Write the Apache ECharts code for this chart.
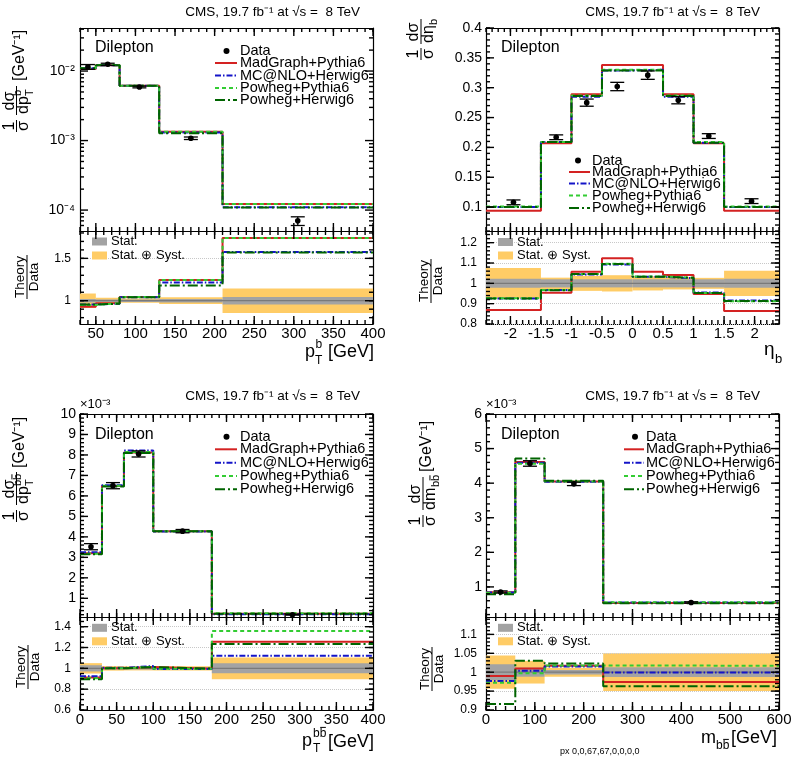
<!DOCTYPE html>
<html><head><meta charset="utf-8">
<script src="https://cdn.jsdelivr.net/npm/echarts@6.0.0/dist/echarts.min.js"></script>
<style>html,body{margin:0;padding:0;background:#fff}#c{width:793px;height:757px}</style>
</head><body><div id="c"></div>
<script>
// ================= DATA =================
const modelNames = ['MadGraph+Pythia6', 'MC@NLO+Herwig6', 'Powheg+Pythia6', 'Powheg+Herwig6'];

const ptbBins = [30, 50, 80, 130, 210, 400];
const ptbData = [1.15e-2, 1.25e-2, 5.9e-3, 1.08e-3, 7.0e-5];
const ptbErr = [0.9e-3, 0.45e-3, 0.17e-3, 0.045e-3, 1.0e-5];
const ptbMadGraph = [1.07e-2, 1.21e-2, 6.15e-3, 1.34e-3, 1.22e-4];
const ptbMcatnlo = [1.10e-2, 1.21e-2, 6.15e-3, 1.31e-3, 1.10e-4];
const ptbPowhegPythia = [1.10e-2, 1.22e-2, 6.15e-3, 1.34e-3, 1.22e-4];
const ptbPowhegHerwig = [1.10e-2, 1.21e-2, 6.15e-3, 1.27e-3, 1.09e-4];
const ptbRatioMadGraph = [0.93, 0.97, 1.045, 1.245, 1.74];
const ptbRatioMcatnlo = [0.955, 0.965, 1.04, 1.215, 1.575];
const ptbRatioPowhegPythia = [0.95, 0.97, 1.045, 1.245, 1.74];
const ptbRatioPowhegHerwig = [0.955, 0.965, 1.04, 1.18, 1.57];
const ptbStat = [0.02, 0.015, 0.015, 0.02, 0.045];
const ptbSyst = [0.085, 0.035, 0.025, 0.04, 0.145];
const ptbXTicks = [50, 100, 150, 200, 250, 300, 350, 400];
const ptbYTicks = [1e-4, 1e-3, 1e-2];
const ptbRatioYTicks = [1, 1.5];

const etaBins = [-2.4, -1.5, -1, -0.5, 0, 0.5, 1, 1.5, 2.4];
const etaData = [0.108, 0.217, 0.275, 0.302, 0.321, 0.279, 0.219, 0.110];
const etaErr = [0.004, 0.004, 0.006, 0.007, 0.007, 0.006, 0.004, 0.004];
const etaMadGraph = [0.094, 0.207, 0.289, 0.338, 0.338, 0.289, 0.207, 0.094];
const etaMcatnlo = [0.100, 0.209, 0.285, 0.329, 0.330, 0.285, 0.208, 0.100];
const etaPowhegPythia = [0.101, 0.209, 0.287, 0.330, 0.330, 0.287, 0.209, 0.101];
const etaPowhegHerwig = [0.100, 0.209, 0.286, 0.329, 0.329, 0.286, 0.208, 0.100];
const etaRatioMadGraph = [0.869, 0.954, 1.057, 1.123, 1.057, 1.041, 0.948, 0.864];
const etaRatioMcatnlo = [0.925, 0.967, 1.043, 1.093, 1.032, 1.025, 0.955, 0.915];
const etaRatioPowhegPythia = [0.927, 0.967, 1.046, 1.097, 1.034, 1.028, 0.953, 0.912];
const etaRatioPowhegHerwig = [0.926, 0.966, 1.046, 1.095, 1.033, 1.027, 0.952, 0.913];
const etaStat = [0.022, 0.02, 0.02, 0.02, 0.02, 0.02, 0.02, 0.022];
const etaSyst = [0.075, 0.028, 0.037, 0.04, 0.035, 0.03, 0.027, 0.062];
const etaXTicks = [-2, -1.5, -1, -0.5, 0, 0.5, 1, 1.5, 2];
const etaYTicks = [0.1, 0.15, 0.2, 0.25, 0.3, 0.35, 0.4];
const etaRatioYTicks = [0.8, 0.9, 1, 1.1, 1.2];

const ptbbBins = [0, 30, 60, 100, 180, 400];
const ptbbData = [3.52, 6.50, 8.05, 4.28, 0.20];
const ptbbErr = [0.15, 0.15, 0.15, 0.08, 0.02];
const ptbbMadGraph = [3.20, 6.48, 8.12, 4.28, 0.251];
const ptbbMcatnlo = [3.25, 6.52, 8.22, 4.26, 0.224];
const ptbbPowhegPythia = [3.17, 6.50, 8.15, 4.27, 0.272];
const ptbbPowhegHerwig = [3.15, 6.46, 8.10, 4.28, 0.247];
const ptbbRatioMadGraph = [0.912, 1.0, 1.012, 0.995, 1.255];
const ptbbRatioMcatnlo = [0.925, 1.005, 1.022, 0.993, 1.12];
const ptbbRatioPowhegPythia = [0.905, 1.0, 1.015, 0.995, 1.358];
const ptbbRatioPowhegHerwig = [0.895, 1.0, 1.012, 0.998, 1.233];
const ptbbStat = [0.03, 0.012, 0.012, 0.01, 0.048];
const ptbbSyst = [0.05, 0.022, 0.02, 0.02, 0.105];
const ptbbXTicks = [0, 50, 100, 150, 200, 250, 300, 350, 400];
const ptbbYTicks = [1, 2, 3, 4, 5, 6, 7, 8, 9, 10];
const ptbbRatioYTicks = [0.6, 0.8, 1, 1.2, 1.4];

const mbbBins = [0, 60, 120, 240, 600];
const mbbData = [0.855, 4.57, 3.98, 0.55];
const mbbErr = [0.03, 0.08, 0.05, 0.02];
const mbbMadGraph = [0.845, 4.61, 4.05, 0.536];
const mbbMcatnlo = [0.835, 4.59, 4.04, 0.55];
const mbbPowhegPythia = [0.83, 4.56, 4.05, 0.56];
const mbbPowhegHerwig = [0.785, 4.71, 4.07, 0.53];
const mbbRatioMadGraph = [0.99, 1.01, 1.017, 0.974];
const mbbRatioMcatnlo = [0.977, 1.004, 1.015, 0.999];
const mbbRatioPowhegPythia = [0.972, 0.997, 1.018, 1.017];
const mbbRatioPowhegHerwig = [0.916, 1.03, 1.023, 0.963];
const mbbStat = [0.021, 0.012, 0.006, 0.013];
const mbbSyst = [0.044, 0.03, 0.012, 0.05];
const mbbXTicks = [0, 100, 200, 300, 400, 500, 600];
const mbbYTicks = [1, 2, 3, 4, 5, 6];
const mbbRatioYTicks = [0.9, 0.95, 1, 1.05, 1.1];

const logYTicksMinor = [6e-5, 7e-5, 8e-5, 9e-5, 2e-4, 3e-4, 4e-4, 5e-4, 6e-4, 7e-4, 8e-4, 9e-4,
  2e-3, 3e-3, 4e-3, 5e-3, 6e-3, 7e-3, 8e-3, 9e-3, 2e-2, 3e-2, 4e-2];

// ================= BUILD =================
const FONT = '"Liberation Sans", Arial, Helvetica, sans-serif';
function range(a, b, s) { const r = []; for (let v = a; v <= b + 1e-9; v += s) r.push(Math.round(v * 1e6) / 1e6); return r; }
const SUP = {'-': '\u207B', '0': '\u2070', '1': '\u00B9', '2': '\u00B2', '3': '\u00B3', '4': '\u2074', '5': '\u2075'};
function sup(n) { return String(n).split('').map(c => SUP[c] || c).join(''); }

const grids = [
  {left: 80, top: 28, width: 293, height: 203},
  {left: 80, top: 231, width: 293, height: 93},
  {left: 486, top: 28, width: 293, height: 203},
  {left: 486, top: 231, width: 293, height: 93},
  {left: 80, top: 414, width: 293, height: 203},
  {left: 80, top: 617, width: 293, height: 93},
  {left: 486, top: 414, width: 293, height: 203},
  {left: 486, top: 617, width: 293, height: 93}
].map(g => Object.assign({outerBoundsMode: 'none', containLabel: false}, g));

const xAxes = [], yAxes = [], series = [], G = [], frames = [];
const frameLine = {show: true, onZero: false, lineStyle: {color: '#000', width: 1.2}};

function frame(gi, xr, xMaj, xMin, yr, yMaj, yMin, o) {
  const xi = xAxes.length;
  ['bottom', 'top'].forEach((pos, k) => {
    xAxes.push({gridIndex: gi, type: 'value', position: pos, min: xr[0], max: xr[1],
      axisLine: frameLine, axisTick: {show: false},
      axisLabel: {show: k === 0 && !!o.xLabels, customValues: xMaj, color: '#000', fontSize: 15, margin: 2, fontFamily: FONT},
      splitLine: {show: false}});
  });
  const yi = yAxes.length;
  ['left', 'right'].forEach((pos, k) => {
    if (o.log) {
      yAxes.push({gridIndex: gi, type: 'log', logBase: 10, position: pos, min: yr[0], max: yr[1],
        axisLine: frameLine, axisTick: {show: false},
        axisLabel: {show: k === 0, showMinLabel: false, showMaxLabel: false,
          formatter: v => '10' + sup(Math.round(Math.log10(v))), color: '#000', fontSize: 14, margin: 5, fontFamily: FONT},
        splitLine: {show: false}, minorTick: {show: false}});
    } else {
      yAxes.push({gridIndex: gi, type: 'value', position: pos, min: yr[0], max: yr[1],
        axisLine: frameLine, axisTick: {show: false},
        axisLabel: {show: k === 0, customValues: yMaj, color: '#000', fontSize: o.yFont || 14, margin: o.yMargin || 4, fontFamily: FONT},
        splitLine: {show: false}});
    }
  });
  const ax = {gi, xi, yi, xr, yr, log: !!o.log, xMaj, xMin, yMaj, yMin};
  frames.push(ax);
  return ax;
}

const modelStyles = [
  {color: '#d42222', type: 'solid'},
  {color: '#1414c8', type: [6, 2, 1.5, 2]},
  {color: '#33cc33', type: [4, 3]},
  {color: '#006400', type: [10, 3, 2, 3]}
];

function histPoints(bins, vals) {
  const pts = [];
  vals.forEach((v, i) => { pts.push([bins[i], v]); pts.push([bins[i + 1], v]); });
  return pts;
}
function histSeries(ax, bins, vals, m) {
  return {type: 'line', xAxisIndex: ax.xi, yAxisIndex: ax.yi, data: histPoints(bins, vals), symbol: 'none',
    lineStyle: {color: modelStyles[m].color, width: 2, type: modelStyles[m].type}, z: 4 + m, silent: true, animation: false};
}
function dataSeries(ax, bins, vals, err) {
  return {type: 'custom', xAxisIndex: ax.xi, yAxisIndex: ax.yi, z: 12, silent: true, animation: false,
    data: vals.map((v, i) => [(bins[i] + bins[i + 1]) / 2, v, err[i]]),
    encode: {x: 0, y: 1},
    renderItem: (params, api) => {
      const x = api.value(0), y = api.value(1), e = api.value(2);
      const c = api.coord([x, y]), t = api.coord([x, y + e]), b = api.coord([x, y - e]);
      const st = {stroke: '#000', lineWidth: 1.3};
      return {type: 'group', children: [
        {type: 'line', shape: {x1: c[0], y1: t[1], x2: c[0], y2: b[1]}, style: st},
        {type: 'line', shape: {x1: c[0] - 7, y1: t[1], x2: c[0] + 7, y2: t[1]}, style: st},
        {type: 'line', shape: {x1: c[0] - 7, y1: b[1], x2: c[0] + 7, y2: b[1]}, style: st},
        {type: 'circle', shape: {cx: c[0], cy: c[1], r: 2.8}, style: {fill: '#000'}}
      ]};
    }};
}
function bandSeries(ax, bins, half, color, z) {
  return {type: 'custom', xAxisIndex: ax.xi, yAxisIndex: ax.yi, z, silent: true, animation: false, clip: true,
    data: half.map((h, i) => [bins[i], bins[i + 1], 1 - h, 1 + h]),
    encode: {x: [0, 1], y: [2, 3]},
    renderItem: (params, api) => {
      const p0 = api.coord([api.value(0), api.value(3)]);
      const p1 = api.coord([api.value(1), api.value(2)]);
      return {type: 'rect', shape: {x: p0[0], y: p0[1], width: p1[0] - p0[0], height: p1[1] - p0[1]}, style: {fill: color}};
    }};
}
function unitySeries(ax, gridVals) {
  return {type: 'line', xAxisIndex: ax.xi, yAxisIndex: ax.yi, data: [[ax.xr[0], 1], [ax.xr[1], 1]], symbol: 'none',
    lineStyle: {color: '#7a7a7a', width: 1.2}, z: 3, silent: true, animation: false,
    markLine: {silent: true, symbol: ['none', 'none'], label: {show: false}, animation: false,
      lineStyle: {type: 'dotted', color: '#c8c8c8', width: 1}, data: gridVals.map(v => ({yAxis: v}))}};
}
function addPanel(mainAx, ratioAx, bins, data, err, models, ratios, stat, syst, gridVals) {
  series.push(bandSeries(ratioAx, bins, syst, '#ffcc66', 1));
  series.push(bandSeries(ratioAx, bins, stat, '#a3a3a3', 2));
  series.push(unitySeries(ratioAx, gridVals));
  models.forEach((v, m) => series.push(histSeries(mainAx, bins, v, m)));
  ratios.forEach((v, m) => series.push(histSeries(ratioAx, bins, v, m)));
  series.push(dataSeries(mainAx, bins, data, err));
}

const aMain = frame(0, [30, 400], ptbXTicks, range(30, 400, 10), [5e-5, 0.0416], ptbYTicks, logYTicksMinor, {log: true});
const aRatio = frame(1, [30, 400], ptbXTicks, range(30, 400, 10), [0.725, 1.823], ptbRatioYTicks, range(0.8, 1.8, 0.1), {xLabels: true, yFont: 12, yMargin: 9});
addPanel(aMain, aRatio, ptbBins, ptbData, ptbErr,
  [ptbMadGraph, ptbMcatnlo, ptbPowhegPythia, ptbPowhegHerwig],
  [ptbRatioMadGraph, ptbRatioMcatnlo, ptbRatioPowhegPythia, ptbRatioPowhegHerwig], ptbStat, ptbSyst, [1.5]);

const bMain = frame(2, [-2.4, 2.4], etaXTicks, range(-2.4, 2.4, 0.1), [0.06, 0.4], etaYTicks, range(0.06, 0.4, 0.01), {});
const bRatio = frame(3, [-2.4, 2.4], etaXTicks, range(-2.4, 2.4, 0.1), [0.8, 1.2575], etaRatioYTicks, range(0.8, 1.24, 0.02), {xLabels: true, yFont: 12, yMargin: 9});
addPanel(bMain, bRatio, etaBins, etaData, etaErr,
  [etaMadGraph, etaMcatnlo, etaPowhegPythia, etaPowhegHerwig],
  [etaRatioMadGraph, etaRatioMcatnlo, etaRatioPowhegPythia, etaRatioPowhegHerwig], etaStat, etaSyst, [0.8, 0.9, 1.1, 1.2]);

const cMain = frame(4, [0, 400], ptbbXTicks, range(0, 400, 10), [0.087, 10], ptbbYTicks, range(0.2, 10, 0.2), {});
const cRatio = frame(5, [0, 400], ptbbXTicks, range(0, 400, 10), [0.6, 1.493], ptbbRatioYTicks, range(0.6, 1.45, 0.05), {xLabels: true, yFont: 12, yMargin: 9});
addPanel(cMain, cRatio, ptbbBins, ptbbData, ptbbErr,
  [ptbbMadGraph, ptbbMcatnlo, ptbbPowhegPythia, ptbbPowhegHerwig],
  [ptbbRatioMadGraph, ptbbRatioMcatnlo, ptbbRatioPowhegPythia, ptbbRatioPowhegHerwig], ptbbStat, ptbbSyst, [0.8, 1.2, 1.4]);

const dMain = frame(6, [0, 600], mbbXTicks, range(0, 600, 20), [0.13, 6], mbbYTicks, range(0.2, 6, 0.2), {});
const dRatio = frame(7, [0, 600], mbbXTicks, range(0, 600, 20), [0.9, 1.146], mbbRatioYTicks, range(0.9, 1.14, 0.01), {xLabels: true, yFont: 12, yMargin: 9});
addPanel(dMain, dRatio, mbbBins, mbbData, mbbErr,
  [mbbMadGraph, mbbMcatnlo, mbbPowhegPythia, mbbPowhegHerwig],
  [mbbRatioMadGraph, mbbRatioMcatnlo, mbbRatioPowhegPythia, mbbRatioPowhegHerwig], mbbStat, mbbSyst, [0.95, 1.05, 1.1]);

// ================= TEXT / DECORATION =================
function T(x, y, s, size, align) {
  return {type: 'text', x, y, silent: true, z: 50,
    style: {text: s, font: size + 'px ' + FONT, fontSize: size, fontFamily: FONT, fill: '#000',
      textAlign: align || 'left', align: align || 'left', textVerticalAlign: 'middle', verticalAlign: 'middle'}};
}
function L(x1, y1, x2, y2, stroke, w, dash) {
  return {type: 'line', silent: true, z: 50, shape: {x1, y1, x2, y2}, style: {stroke: stroke || '#000', lineWidth: w || 1, lineDash: dash || null}};
}
function R(x, y, w, h, fill) { return {type: 'rect', silent: true, z: 50, shape: {x, y, width: w, height: h}, style: {fill}}; }
function rot(ox, oy, children) { G.push({type: 'group', x: ox, y: oy, rotation: Math.PI / 2, silent: true, z: 50, children}); }
function bbbar(x, y, size) {
  const w = size * 0.556;
  return [T(x, y, 'bb', size, 'left'), L(x + w + 0.5, y - size * 0.55, x + 2 * w - 0.5, y - size * 0.55, '#000', 1)];
}

const title = 'CMS, 19.7 fb' + sup(-1) + ' at \u221As =  8 TeV';
[[360, 12], [760, 12], [360, 396], [760, 396]].forEach(p => G.push(T(p[0], p[1], title, 13.5, 'right')));
[[95, 48], [501, 48], [95, 435], [501, 435]].forEach(p => G.push(T(p[0], p[1], 'Dilepton', 16, 'left')));
G.push(T(80, 404, '\u00D710' + sup(-3), 13, 'left'));
G.push(T(486, 404, '\u00D710' + sup(-3), 13, 'left'));

function mainLegend(x0, x1, xt, xd, ys) {
  G.push({type: 'circle', silent: true, z: 50, shape: {cx: xd, cy: ys[0], r: 3}, style: {fill: '#000'}});
  G.push(T(xt, ys[0], 'Data', 14.5, 'left'));
  modelNames.forEach((n, m) => {
    const st = modelStyles[m];
    G.push(L(x0, ys[m + 1], x1, ys[m + 1], st.color, 2, st.type === 'solid' ? null : st.type));
    G.push(T(xt, ys[m + 1], n, 14.5, 'left'));
  });
}
mainLegend(215, 237, 240, 226.5, [51, 63, 75.5, 88, 100]);
mainLegend(569, 590, 592, 578, [160.5, 172, 183.5, 195.5, 208]);
mainLegend(215, 237, 240, 226.5, [436.7, 449.3, 462.7, 476, 489.3]);
mainLegend(624, 644, 646, 635, [436.7, 449.3, 462.7, 476, 489.3]);

function ratioLegend(x, y1, y2) {
  G.push(R(x, y1 - 4, 15, 8, '#a3a3a3'));
  G.push(T(x + 19, y1, 'Stat.', 13, 'left'));
  G.push(R(x, y2 - 4, 15, 8, '#ffcc66'));
  G.push(T(x + 19, y2, 'Stat. \u2295 Syst.', 13, 'left'));
}
ratioLegend(92, 241.5, 255.5);
ratioLegend(498, 242, 255.5);
ratioLegend(92, 627.8, 641.3);
ratioLegend(498, 627.8, 641.3);

G.push(T(305, 352, 'p', 18, 'left'), T(315.5, 345, 'b', 12, 'left'), T(315, 361, 'T', 12, 'left'), T(328, 352, '[GeV]', 18, 'left'));
G.push(T(764, 350, '\u03B7', 19, 'left'), T(775, 359, 'b', 13, 'left'));
G.push(T(302, 741, 'p', 18, 'left'), ...bbbar(313, 734, 12), T(313, 749, 'T', 12, 'left'), T(328, 742, '[GeV]', 18, 'left'));
G.push(T(701, 738, 'm', 18, 'left'), ...bbbar(716, 746, 12), T(731, 738, '[GeV]', 18, 'left'));

const gev = '[GeV' + sup(-1) + ']';
rot(16.5, 132, [T(6, -7, '1', 16, 'center'), L(0, 0, 12, 0), T(6, 7.5, '\u03C3', 16, 'center'),
  T(31, -7, 'd\u03C3', 16, 'center'), L(17, 0, 46, 0), T(18, 7.5, 'dp', 16, 'left'),
  T(36, 1.5, 'b', 11, 'left'), T(36, 13.5, 'T', 11, 'left'), T(51, 3.5, gev, 16, 'left')]);
rot(421, 60, [T(6, -7, '1', 16, 'center'), L(0, 0, 12, 0), T(6, 7.5, '\u03C3', 16, 'center'),
  T(28, -7, 'd\u03C3', 16, 'center'), L(16, 0, 41, 0), T(17, 7.5, 'd\u03B7', 16, 'left'),
  T(35, 13, 'b', 11, 'left')]);
rot(16.5, 522, [T(6, -7, '1', 16, 'center'), L(0, 0, 12, 0), T(6, 7.5, '\u03C3', 16, 'center'),
  T(33, -7, 'd\u03C3', 16, 'center'), L(17, 0, 50, 0), T(18, 7.5, 'dp', 16, 'left'),
  ...bbbar(36, 1.5, 11), T(36, 13.5, 'T', 11, 'left'), T(54, 3.5, gev, 16, 'left')]);
rot(423, 527, [T(6, -7, '1', 16, 'center'), L(0, 0, 12, 0), T(6, 7.5, '\u03C3', 16, 'center'),
  T(33, -7, 'd\u03C3', 16, 'center'), L(17, 0, 50, 0), T(17, 7.5, 'dm', 16, 'left'),
  ...bbbar(40, 13, 11), T(55, 3.5, gev, 16, 'left')]);

[[27, 277], [431, 281], [28, 667], [432, 669]].forEach(p =>
  rot(p[0], p[1], [T(0, -7, 'Theory', 13.5, 'center'), L(-22, 0, 22, 0), T(0, 7.5, 'Data', 13.5, 'center')]));

const chart = echarts.init(document.getElementById('c'), null, {renderer: 'canvas'});
chart.setOption({
  animation: false,
  backgroundColor: '#fff',
  textStyle: {fontFamily: FONT},
  grid: grids,
  xAxis: xAxes,
  yAxis: yAxes,
  series
});

// tick marks (thin filled rects) on all four sides of each frame, positioned through the axes' own scales
const TK = [];
const probes = [];
frames.forEach((f, fi) => {
  const fin = {xAxisIndex: f.xi, yAxisIndex: f.yi};
  const bl = chart.convertToPixel(fin, [f.xr[0], f.yr[0]]);
  const tr = chart.convertToPixel(fin, [f.xr[1], f.yr[1]]);
  const xl = bl[0], xrp = tr[0], yb = bl[1], yt = tr[1];
  const xMid = (f.xr[0] + f.xr[1]) / 2;
  const yMid = f.log ? Math.sqrt(f.yr[0] * f.yr[1]) : (f.yr[0] + f.yr[1]) / 2;
  const rk = (x, y, w, h) => ({type: 'rect', silent: true, z: 60, shape: {x, y, width: w, height: h}, style: {fill: '#000'}});
  const xt = (v, len) => {
    const px = chart.convertToPixel(fin, [v, yMid])[0];
    TK.push(rk(px - 0.7, yb - len, 1.4, len), rk(px - 0.7, yt, 1.4, len));
  };
  const ytk = (v, len) => {
    const py = chart.convertToPixel(fin, [xMid, v])[1];
    TK.push(rk(xl, py - 0.7, len, 1.4), rk(xrp - len, py - 0.7, len, 1.4));
  };
  f.xMaj.forEach(v => xt(v, 8));
  f.xMin.forEach(v => xt(v, 4));
  f.yMaj.forEach(v => ytk(v, 8));
  f.yMin.forEach(v => ytk(v, 4));
  if (fi < 2) {
    const px = Math.round(chart.convertToPixel(fin, [f.xMaj[1], yMid])[0]);
    const py = Math.round(chart.convertToPixel(fin, [xMid, f.yMaj[f.yMaj.length - 1]])[1]);
    probes.push([px, yt + 3], [px, yb - 3], [xl + 3, py], [xrp - 3, py]);
  }
});
chart.setOption({graphic: {elements: G.concat(TK)}});

// diagnostic readout of pixels where ticks should be
try {
  chart.getZr().refreshImmediately();
  const cv = chart.getDom().querySelector('canvas');
  const dpr = cv.width / 793;
  const ctx = cv.getContext('2d');
  const res = probes.map(p => ctx.getImageData(Math.round(p[0] * dpr), Math.round(p[1] * dpr), 1, 1).data[0]).join(',');
  chart.setOption({graphic: {elements: G.concat(TK, [T(560, 752, 'px ' + res, 9, 'left')])}});
} catch (e) {}
</script></body></html>
